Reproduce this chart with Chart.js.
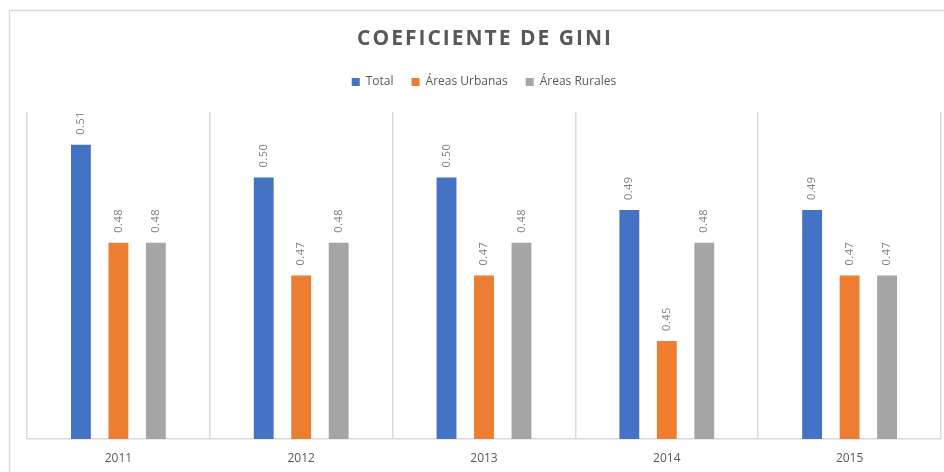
<!DOCTYPE html>
<html>
<head>
<meta charset="utf-8">
<script src="https://cdn.jsdelivr.net/npm/chart.js@4"></script>
<style>
  html, body { margin: 0; padding: 0; background: #fff; }
  #wrap { width: 944px; height: 472px; }
</style>
</head>
<body>
<div id="wrap"><canvas id="grafico" width="944" height="472"></canvas></div>
<script>
const anos = ["2011", "2012", "2013", "2014", "2015"];
const total = [0.51, 0.50, 0.50, 0.49, 0.49];
const urbanas = [0.48, 0.47, 0.47, 0.45, 0.47];
const rurales = [0.48, 0.48, 0.48, 0.48, 0.47];

const titulo = "COEFICIENTE DE GINI";
const cinza = "#595959";

// moldura e titulo desenhados a mao (Chart.js nao tem letter-spacing)
const moldura = {
  id: "moldura",
  beforeLayout(chart) {
    // um respiro entre a legenda e as barras
    const leg = chart.legend;
    if (leg && !leg._ajustado) {
      const fitOrig = leg.fit;
      leg.fit = function () {
        fitOrig.call(this);
        this.height += 14;
      };
      leg._ajustado = true;
    }
  },
  beforeDraw(chart) {
    const ctx = chart.ctx;
    ctx.save();
    ctx.strokeStyle = "#d9d9d9";
    ctx.lineWidth = 1.5;
    ctx.beginPath();
    ctx.moveTo(9.5, 472);
    ctx.lineTo(9.5, 10.5);
    ctx.lineTo(944, 10.5);
    ctx.stroke();
    ctx.restore();
  },
  afterDraw(chart) {
    const ctx = chart.ctx;
    const area = chart.chartArea;
    ctx.save();
    ctx.font = "bold 21px 'Open Sans'";
    ctx.letterSpacing = "2px";
    ctx.fillStyle = cinza;
    ctx.textAlign = "center";
    ctx.textBaseline = "middle";
    ctx.fillText(titulo, (area.left + area.right) / 2 + 1, 39);
    ctx.restore();
  }
};

// rotulos verticais em cima das barras
const rotulos = {
  id: "rotulos",
  afterDatasetsDraw(chart) {
    const ctx = chart.ctx;
    ctx.save();
    ctx.font = "11px 'Open Sans'";
    ctx.letterSpacing = "0.5px";
    ctx.fillStyle = "#7f7f7f";
    ctx.textAlign = "left";
    ctx.textBaseline = "middle";
    chart.data.datasets.forEach((ds, i) => {
      chart.getDatasetMeta(i).data.forEach((bar, j) => {
        ctx.save();
        ctx.translate(bar.x, bar.y - 10);
        ctx.rotate(-Math.PI / 2);
        ctx.fillText(ds.data[j].toFixed(2), 0, 0);
        ctx.restore();
      });
    });
    ctx.restore();
  }
};

new Chart(document.getElementById("grafico"), {
  type: "bar",
  data: {
    labels: anos,
    datasets: [
      { label: "Total", data: total, backgroundColor: "#4472C4" },
      { label: "Áreas Urbanas", data: urbanas, backgroundColor: "#ED7D31" },
      { label: "Áreas Rurales", data: rurales, backgroundColor: "#A5A5A5" }
    ]
  },
  options: {
    responsive: false,
    animation: false,
    datasets: {
      bar: { categoryPercentage: 0.615, barPercentage: 0.53 }
    },
    layout: { padding: { top: 58, left: 27, right: 3, bottom: 0 } },
    plugins: {
      title: { display: false },
      tooltip: { enabled: false },
      legend: {
        position: "top",
        labels: {
          boxWidth: 8,
          boxHeight: 8,
          padding: 18,
          color: cinza,
          font: { family: "'Open Sans'", size: 12 }
        }
      }
    },
    scales: {
      x: {
        grid: { offset: true, color: "#d9d9d9", drawTicks: false, lineWidth: 1.5 },
        border: { color: "#d9d9d9", width: 1.5 },
        ticks: { color: cinza, padding: 12, font: { family: "'Open Sans'", size: 12 } },
        afterFit(scale) { scale.height = 33; }
      },
      y: {
        display: false,
        min: 0.42,
        max: 0.52
      }
    }
  },
  plugins: [moldura, rotulos]
});
</script>
</body>
</html>
